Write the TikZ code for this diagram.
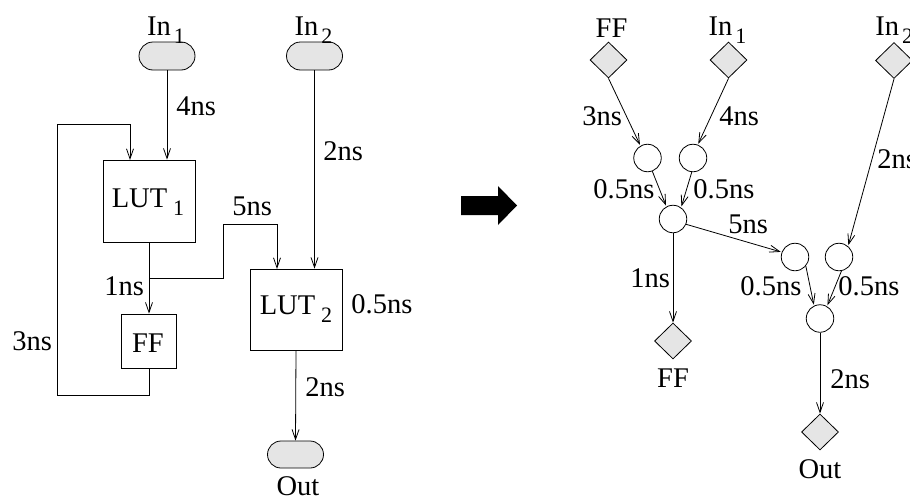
\documentclass[tikz,border=0pt]{standalone}
\usepackage{fontspec}
\setmainfont{Liberation Serif}
\usetikzlibrary{shapes.geometric,shapes.misc,arrows.meta}
\newcommand{\lsub}[2][6pt]{\hspace{#1}\raisebox{-8pt}{\fontsize{22}{22}\selectfont #2}}
\begin{document}
\begin{tikzpicture}[x=1pt,y=-1pt,line width=0.8pt,
  every node/.style={font=\fontsize{28.5}{30}\selectfont},
  >={Straight Barb[length=10pt,width=7pt]},
  pill/.style={rounded rectangle,draw,fill=black!10,minimum width=56pt,minimum height=28pt,inner sep=0pt},
  box/.style={rectangle,draw,inner sep=0pt},
  gdiam/.style={diamond,draw,fill=black!10,minimum width=37pt,minimum height=36pt,inner sep=0pt},
  circ/.style={circle,draw,minimum size=27.5pt,inner sep=0pt},
  lbl/.style={anchor=base,inner sep=0pt},
  lblw/.style={anchor=base west,inner sep=0pt},
  conn/.style={->,shorten >=1pt}]
\useasboundingbox (0,0) rectangle (910,498);

% ---------- left circuit ----------
\node[pill] (in1) at (167,56) {};
\node[pill] (in2) at (314.5,56) {};
\node[pill,minimum height=27pt] (out) at (295.5,454.5) {};
\node[box,minimum width=92pt,minimum height=82pt] (lut1) at (149,201) {};
\node[box,minimum width=55pt,minimum height=54pt] (ff) at (149,341) {};
\node[box,minimum width=92pt,minimum height=81pt] (lut2) at (296,309.5) {};

\node[lbl] (tin1) at (166,35) {In\lsub[3pt]{1}};
\node[lbl] (tin2) at (313.5,35) {In\lsub[3pt]{2}};
\node[lbl] (tout) at (298,495) {Out};
\node[lbl] (tlut1) at (148,207) {LUT\lsub{1}};
\node[lbl] (tff) at (148,352) {FF};
\node[lbl] (tlut2) at (296,314) {LUT\lsub{2}};

\node[lblw] (l4) at (176,115) {4ns};
\node[lblw] (l2a) at (323,160) {2ns};
\node[lblw] (l5) at (232,215) {5ns};
\node[lblw] (l1) at (104,295) {1ns};
\node[lblw] (l3) at (12,350) {3ns};
\node[lblw] (l05) at (351,313) {0.5ns};
\node[lblw] (l2b) at (305,396) {2ns};

\coordinate (fbL) at (57,395);
\coordinate (fbT) at (57,124);
\coordinate (fbin) at (130,160);
\coordinate (j) at (149,278);
\coordinate (bend) at (223,224);
\coordinate (lut2in) at (277,269);

\draw[->] (in1.south) -- (in1.south |- lut1.north);
\draw[->] (in2.south) -- (in2.south |- lut2.north);
\draw[->] (ff.south) |- (fbL) -- (fbT) -| (fbin);
\draw[->] (lut1.south) -- (ff.north);
\draw[->] (j) -| (bend) -| (lut2in);
\draw[->] (lut2.south) -- (out.north);

% ---------- big arrow ----------
\fill (461,196) -- (498,196) -- (498,186) -- (517,205.5) -- (498,225) -- (498,215) -- (461,215) -- cycle;

% ---------- right graph ----------
\node[gdiam] (dFF) at (608.5,60) {};
\node[gdiam] (dIn1) at (728.5,60) {};
\node[gdiam] (dIn2) at (894,60.5) {};
\node[circ] (cA) at (647.5,158) {};
\node[circ] (cB) at (693,158) {};
\node[circ] (cC) at (673,219) {};
\node[circ] (cD) at (795,257) {};
\node[circ] (cE) at (839,257) {};
\node[circ] (cF) at (820,318.5) {};
\node[gdiam] (dFF2) at (673,341) {};
\node[gdiam] (dOut) at (820,432) {};

\node[lbl] (rFF) at (611.5,37) {FF};
\node[lbl] (rIn1) at (727.5,35) {In\lsub[3pt]{1}};
\node[lblw] (rIn2) at (875,35) {In\lsub[3pt]{2}};
\node[lbl] (rFF2) at (673,387) {FF};
\node[lbl] (rOut) at (820,478) {Out};

\node[lblw] (r3) at (582,125) {3ns};
\node[lblw] (r4) at (719,125) {4ns};
\node[lblw] (r05a) at (593,198) {0.5ns};
\node[lblw] (r05b) at (693,198) {0.5ns};
\node[lblw] (r5) at (728,233) {5ns};
\node[lblw] (r2a) at (877,168) {2ns};
\node[lblw] (r1) at (630,287) {1ns};
\node[lblw] (r05c) at (740,295) {0.5ns};
\node[lblw] (r05d) at (838,295) {0.5ns};
\node[lblw] (r2b) at (830,388) {2ns};

\draw[conn] (dFF.south) -- (cA.120);
\draw[conn] (dIn1.south) -- (cB.70);
\draw[conn] (cA.-70) -- (cC.118);
\draw[conn] (cB.-95) -- (cC.55);
\draw[conn] (cC.-22) -- (cD.160);
\draw[conn] (dIn2.south) -- (cE.50);
\draw[conn] (cD.-40) -- (cF.115);
\draw[conn] (cE.-80) -- (cF.60);
\draw[->] (cC.south) -- (dFF2.north);
\draw[->] (cF.south) -- (dOut.north);
\end{tikzpicture}
\end{document}
